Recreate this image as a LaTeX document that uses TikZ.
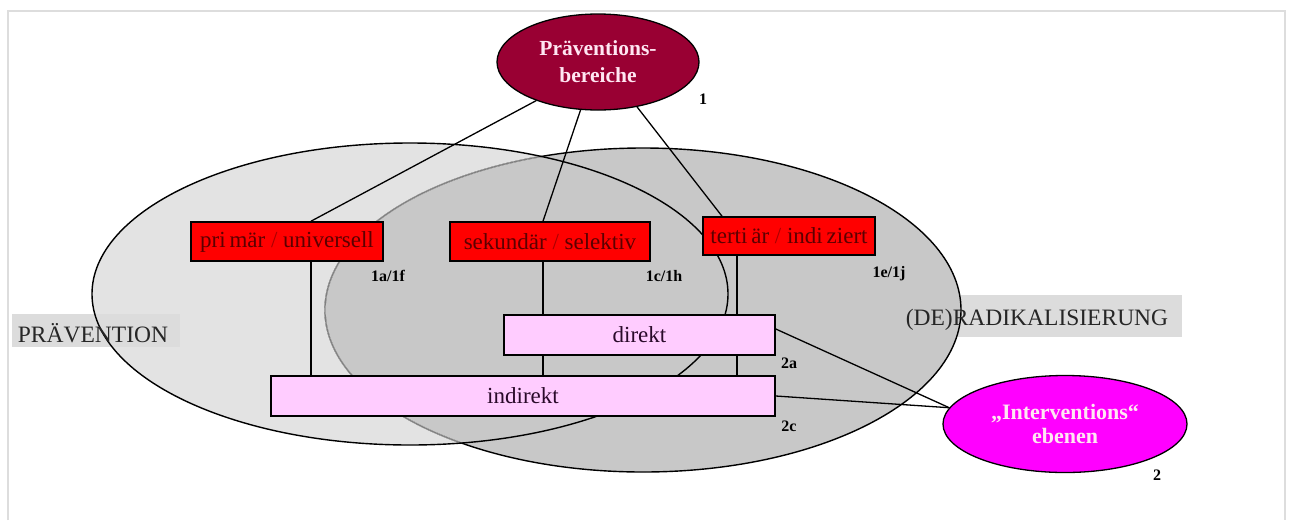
\documentclass[tikz,border=0pt]{standalone}
\usepackage{fontspec}
\setmainfont{Liberation Serif}
\usetikzlibrary{shapes.geometric,calc}
\definecolor{prevfill}{HTML}{E3E3E3}
\definecolor{derafill}{HTML}{C8C8C8}
\definecolor{labelgray}{HTML}{DCDCDC}
\definecolor{framegray}{HTML}{DDDDDD}
\definecolor{maroonfill}{HTML}{990033}
\definecolor{boxred}{HTML}{FF0000}
\definecolor{redtext}{HTML}{5C0000}
\definecolor{slashred}{HTML}{A80000}
\definecolor{pinkfill}{HTML}{FFCCFF}
\definecolor{pinktext}{HTML}{2A0A2A}
\definecolor{magentafill}{HTML}{FF00FF}
\definecolor{lighttext}{HTML}{FFE6F2}
\begin{document}
\begin{tikzpicture}[x=1pt,y=-1pt,
  redbox/.style={draw=black, line width=1.6pt, fill=boxred, text=redtext, inner sep=0pt,
    font=\fontsize{23}{27}\selectfont},
  pinkbox/.style={draw=black, line width=1.6pt, fill=pinkfill, text=pinktext, inner sep=0pt,
    font=\fontsize{23}{27}\selectfont},
  areabox/.style={fill=labelgray, inner sep=0pt},
  areatext/.style={font=\fontsize{23.5}{28}\selectfont, text=black!85, inner sep=0pt, anchor=base},
  tag/.style={font=\bfseries\fontsize{16}{19}\selectfont, inner sep=0pt},
  link/.style={line width=1.3pt, draw=black},
  bubble/.style={ellipse, draw=black, line width=1.3pt, inner sep=0pt, align=center,
    text=lighttext, font=\bfseries\fontsize{21.5}{27}\selectfont},
]
\useasboundingbox (0,0) rectangle (1290,520);
\draw[framegray, line width=2pt] (8,520) -- (8,11) -- (1285,11) -- (1285,520);

% area fills
\path[fill=prevfill] (410,294) ellipse (318 and 151);
\node[areabox, minimum width=282, minimum height=42] (derabox) at (1041,316) {};
\path[fill=derafill] (643,310) ellipse (318 and 162);
\node[areabox, minimum width=168, minimum height=33] (prevbox) at (96,330.5) {};

% area borders
\draw[line width=1.4pt] (643,310) ellipse (318 and 162);
\begin{scope}
  \clip (410,294) ellipse (318 and 151);
  \draw[line width=1.6pt, draw=prevfill] (643,310) ellipse (318 and 162);
  \draw[line width=1.2pt, draw=black!50] (643,310) ellipse (318 and 162);
\end{scope}
\draw[line width=1.4pt] (410,294) ellipse (318 and 151);

\node[areatext] (prevtext) at (93,342) {PRÄVENTION};
\node[areatext] (deratext) at (1037,325) {(DE)RADIKALISIERUNG};

% main nodes
\node[bubble, fill=maroonfill, minimum width=202, minimum height=96] (pb) at (598,62)
  {Präventions-\\bereiche};
\node[bubble, fill=magentafill, minimum width=244, minimum height=97,
  font=\bfseries\fontsize{22}{24}\selectfont] (ie) at (1065,424)
  {„Interventions“\\ebenen};

\node[redbox, minimum width=192, minimum height=39] (pu) at (287,241.5) {};
\node[redbox, minimum width=200, minimum height=39] (ps) at (550,241.5) {};
\node[redbox, minimum width=172, minimum height=38] (pt) at (789,236) {};

\coordinate (pux) at ($(pu.south)+(24,0)$);
\coordinate (psx) at ($(ps.south)+(-7,0)$);
\coordinate (ptx) at ($(pt.south)+(-52,0)$);

% connectors from the top ellipse
\draw[link] (pb.212) -- ($(pu.north)+(24,0)$);
\draw[link] (pb.250) -- ($(ps.north)+(-7,0)$);
\draw[link] (pb.311) -- ($(pt.north)+(-67,0)$);

% boxes redrawn on top of connectors
\node[redbox, minimum width=192, minimum height=39] at (pu) {pri\,mär {\color{slashred}/} universell};
\node[redbox, minimum width=200, minimum height=39] at (ps) {sekundär {\color{slashred}/} selektiv};
\node[redbox, minimum width=172, minimum height=38] at (pt) {terti\,är {\color{slashred}/} indi\,ziert};

\node[pinkbox, minimum width=504, minimum height=40] (ind) at (523,396) {indirekt};

% vertical connectors down to "indirekt"
\draw[link] (pux) -- (pux |- ind.north);
\draw[link] (psx) -- (psx |- ind.north);
\draw[link] (ptx) -- (ptx |- ind.north);

\node[pinkbox, minimum width=271, minimum height=40] (dir) at (639.5,335) {direkt};

% connectors to the lower ellipse
\draw[link] ($(dir.east)+(0,-6)$) -- (ie.172);
\draw[link] (ind.east) -- (ie.172);

% tags
\node[tag] (t1) at (703,99) {1};
\node[tag] (t1a) at (388,276) {1a/1f};
\node[tag] (t1c) at (664,276) {1c/1h};
\node[tag] (t1e) at (889,274) {1e/1j};
\node[tag] (t2a) at (789,363) {2a};
\node[tag] (t2c) at (789,426) {2c};
\node[tag] (t2) at (1157,475) {2};
\end{tikzpicture}
\end{document}
